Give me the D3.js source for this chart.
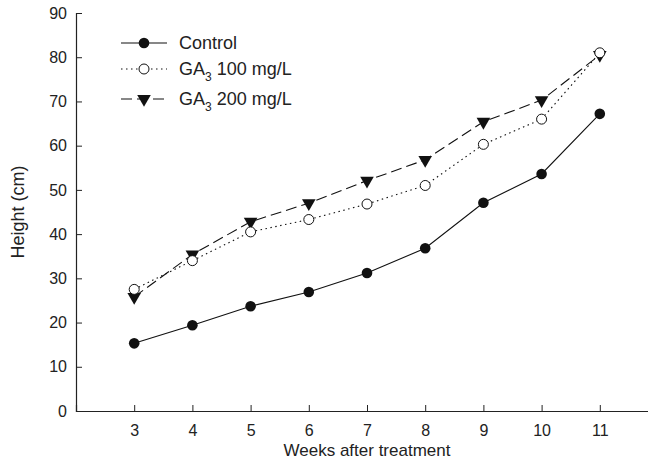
<!DOCTYPE html>
<html>
<head>
<meta charset="utf-8">
<script src="https://cdn.jsdelivr.net/npm/d3@7"></script>
<style>
  body { margin: 0; background: #fff; overflow: hidden; }
  text { font-family: "Liberation Sans", Arial, sans-serif; fill: #222; }
</style>
</head>
<body>
<div id="chart"></div>
<script>
// weeks after treatment
const weeks = [3, 4, 5, 6, 7, 8, 9, 10, 11];
// plant height (cm)
const control = [15.3, 19.4, 23.7, 26.9, 31.2, 36.8, 47.1, 53.6, 67.2];
const ga100 = [27.5, 34.0, 40.5, 43.3, 46.8, 51.0, 60.3, 66.0, 81.0];
const ga200 = [25.8, 35.4, 42.8, 47.0, 52.1, 56.8, 65.4, 70.3, 80.5];
const yTicks = [0, 10, 20, 30, 40, 50, 60, 70, 80, 90];

const width = 648, height = 461;
const margin = {top: 13, bottom: 50, left: 76};

const svg = d3.select("#chart").append("svg")
    .attr("width", width)
    .attr("height", height);

// the plot area runs past the right edge of the picture (week 12 is cut off)
const x = d3.scaleLinear().domain([2, 12]).range([margin.left, 658]);
const y = d3.scaleLinear().domain([0, 90]).range([height - margin.bottom, margin.top]);

// axes, ticks pointing inward
const xAxis = svg.append("g")
    .attr("transform", "translate(0," + y(0) + ")")
    .call(d3.axisBottom(x).tickValues(weeks).tickSize(-6).tickPadding(14));
const yAxis = svg.append("g")
    .attr("transform", "translate(" + x(2) + ",0)")
    .call(d3.axisLeft(y).tickValues(yTicks).tickSize(-6).tickPadding(9));

[xAxis, yAxis].forEach(function (g) {
    g.select(".domain").attr("stroke", "#222").attr("stroke-width", 1.2);
    g.selectAll(".tick line").attr("stroke", "#222").attr("stroke-width", 1);
    g.selectAll(".tick text").style("font-size", "16px").attr("fill", "#222")
        .style("font-family", "Liberation Sans, Arial, sans-serif");
});

svg.append("text")
    .attr("x", x(7))
    .attr("y", 456)
    .attr("text-anchor", "middle")
    .style("font-size", "17px")
    .text("Weeks after treatment");

svg.append("text")
    .attr("transform", "translate(24," + y(45) + ") rotate(-90)")
    .attr("text-anchor", "middle")
    .style("font-size", "18px")
    .text("Height (cm)");

const series = [
    {name: "Control", values: control, dash: null, marker: "filled"},
    {name: "GA100", values: ga100, dash: "1.5,3.5", marker: "open"},
    {name: "GA200", values: ga200, dash: "11,5", marker: "triangle"}
];

const line = d3.line()
    .x(function (d, i) { return x(weeks[i]); })
    .y(function (d) { return y(d); });

const tri = d3.symbol().type(d3.symbolTriangle).size(80);

function drawMarker(g, kind, cx, cy) {
    if (kind == "filled") {
        g.append("circle").attr("cx", cx).attr("cy", cy).attr("r", 5.3)
            .attr("fill", "#111");
    } else if (kind == "open") {
        g.append("circle").attr("cx", cx).attr("cy", cy).attr("r", 5)
            .attr("fill", "#fff").attr("stroke", "#111").attr("stroke-width", 1);
    } else {
        g.append("path").attr("d", tri)
            .attr("transform", "translate(" + cx + "," + cy + ") rotate(180)")
            .attr("fill", "#111");
    }
}

// lines first, then markers (GA200, GA100, Control)
series.slice().reverse().forEach(function (s) {
    svg.append("path")
        .datum(s.values)
        .attr("d", line)
        .attr("fill", "none")
        .attr("stroke", "#111")
        .attr("stroke-width", 1.1)
        .attr("stroke-dasharray", s.dash);
});
series.slice().reverse().forEach(function (s) {
    const g = svg.append("g");
    s.values.forEach(function (v, i) {
        drawMarker(g, s.marker, x(weeks[i]), y(v));
    });
});

// legend
const legendY = [43, 69, 99];
series.forEach(function (s, i) {
    const g = svg.append("g");
    g.append("line")
        .attr("x1", 121).attr("x2", 167)
        .attr("y1", legendY[i]).attr("y2", legendY[i])
        .attr("stroke", "#111").attr("stroke-width", 1.1)
        .attr("stroke-dasharray", s.dash);
    drawMarker(g, s.marker, 144, legendY[i]);
    const t = g.append("text")
        .attr("x", 179).attr("y", legendY[i] + 6)
        .style("font-size", "18px");
    if (s.name == "Control") {
        t.text("Control");
    } else {
        t.append("tspan").text("GA");
        t.append("tspan").attr("dy", 6).style("font-size", "12px").text("3");
        t.append("tspan").attr("dy", -6).text(s.name == "GA100" ? " 100 mg/L" : " 200 mg/L");
    }
});
</script>
</body>
</html>
